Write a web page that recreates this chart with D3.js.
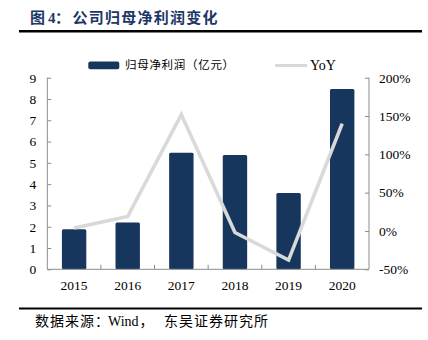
<!DOCTYPE html>
<html><head><meta charset="utf-8">
<script src="https://cdn.jsdelivr.net/npm/d3@7"></script>
<style>body{margin:0;background:#fff}svg{display:block}</style>
</head><body>
<svg id="c" width="428" height="340"></svg>
<script>
const years = ["2015","2016","2017","2018","2019","2020"];
const profit = [1.88, 2.2, 5.48, 5.37, 3.58, 8.47];
const yoy = [4, 19, 152, -2, -38, 140];
const leftTicks = [0,1,2,3,4,5,6,7,8,9];
const rightTicks = [-50,0,50,100,150,200];
const seriesNames = ["归母净利润（亿元）","YoY"];

const svg = d3.select("#c");
const serif = "'Liberation Serif','Times New Roman',serif";
const cjk = "'Noto Sans CJK SC','Noto Sans',sans-serif";
const axisColor = "#8c8c8c";
const barColor = "#17365d";
const lineColor = "#d9d9d9";

const L = 47.3, R = 369, T = 77.7, B = 269.3;
const x = d3.scaleBand().domain(years).range([L, R]).paddingInner(0.545).paddingOuter(0.2725);
const yL = d3.scaleLinear().domain([0, 9]).range([B, T]);
const yR = d3.scaleLinear().domain([-50, 200]).range([B, T]);

// Title
const title = svg.append("text").attr("y", 22.5).attr("fill", "#1c3766").attr("font-weight", "bold").attr("font-size", 15);
title.append("tspan").attr("x", 30).attr("font-family", cjk).text("图");
title.append("tspan").attr("x", 48).attr("font-family", serif).attr("font-size", 15).text("4");
title.append("tspan").attr("x", 55).attr("font-family", cjk).text("：");
title.append("tspan").attr("x", 72.5).attr("font-family", cjk).attr("letter-spacing", 1.25).text("公司归母净利润变化");
svg.append("line").attr("x1", 19).attr("x2", 422).attr("y1", 31.3).attr("y2", 31.3).attr("stroke", "#000").attr("stroke-width", 2.4);

// Bars
svg.append("g").selectAll("rect").data(profit).join("rect")
  .attr("x", (d, i) => x(years[i]))
  .attr("width", x.bandwidth())
  .attr("y", d => yL(d))
  .attr("height", d => B - yL(d))
  .attr("rx", 1.5)
  .attr("fill", barColor);

// Line
const line = d3.line().x((d, i) => x(years[i]) + x.bandwidth() / 2).y(d => yR(d));
svg.append("path").datum(yoy).attr("d", line).attr("fill", "none")
  .attr("stroke", lineColor).attr("stroke-width", 3.6).attr("stroke-linejoin", "miter");

// Left axis
const gL = svg.append("g").attr("transform", `translate(${L},0)`)
  .call(d3.axisLeft(yL).tickValues(leftTicks).tickSize(-4).tickPadding(11).tickFormat(d3.format("d")));
// Right axis
const gR = svg.append("g").attr("transform", `translate(${R},0)`)
  .call(d3.axisRight(yR).tickValues(rightTicks).tickSize(-4).tickPadding(10).tickFormat(d => d + "%"));
// Bottom axis
const gB = svg.append("g").attr("transform", `translate(0,${B})`)
  .call(d3.axisBottom(x).tickSize(0).tickPadding(11));
// boundary ticks on x axis
const step = x.step();
svg.append("g").selectAll("line").data(d3.range(1, years.length)).join("line")
  .attr("x1", i => L + i * step).attr("x2", i => L + i * step)
  .attr("y1", B).attr("y2", B - 4.5).attr("stroke", axisColor);

[gL, gR, gB].forEach(g => {
  g.select(".domain").attr("stroke", axisColor);
  g.selectAll(".tick line").attr("stroke", axisColor);
  g.selectAll("text").attr("font-family", serif).attr("font-size", 13.5).attr("fill", "#000");
});
gL.select(".domain").attr("d", `M0,${B}V${T}`);
gR.select(".domain").attr("d", `M0,${B}V${T}`);
gB.select(".domain").attr("d", `M${L},0H${R}`);

// Legend
svg.append("rect").attr("x", 88.3).attr("y", 61.5).attr("width", 31).attr("height", 7.8).attr("rx", 2).attr("fill", barColor);
svg.append("text").attr("x", 125).attr("y", 69).attr("font-family", cjk).attr("font-size", 11.5)
  .attr("letter-spacing", 0.7).attr("fill", "#000").text(seriesNames[0]);
svg.append("line").attr("x1", 275).attr("x2", 307).attr("y1", 65.5).attr("y2", 65.5).attr("stroke", lineColor).attr("stroke-width", 3);
svg.append("text").attr("x", 310).attr("y", 70).attr("font-family", serif).attr("font-size", 14).attr("fill", "#000").text(seriesNames[1]);

// Footer
svg.append("line").attr("x1", 19).attr("x2", 422).attr("y1", 308.5).attr("y2", 308.5).attr("stroke", "#000").attr("stroke-width", 1.8);
const foot = svg.append("text").attr("y", 325.6).attr("font-size", 14).attr("fill", "#000");
foot.append("tspan").attr("x", 35).attr("font-family", cjk).attr("letter-spacing", 1).text("数据来源：");
foot.append("tspan").attr("x", 108).attr("font-family", serif).text("Wind");
foot.append("tspan").attr("x", 139.5).attr("font-family", cjk).text("，");
foot.append("tspan").attr("x", 164).attr("font-family", cjk).attr("letter-spacing", 1).text("东吴证券研究所");
</script>
</body></html>
